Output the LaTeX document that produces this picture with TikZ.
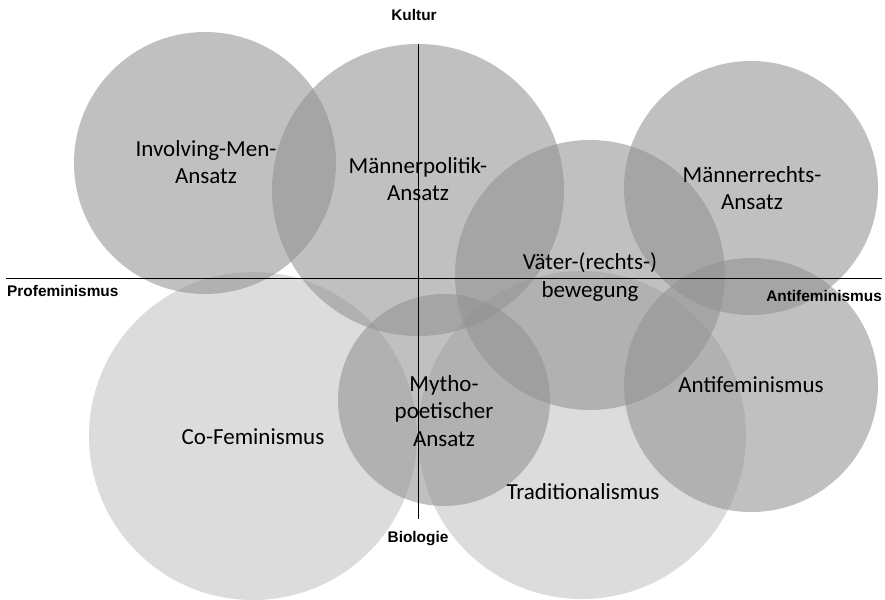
\documentclass[tikz,border=0pt]{standalone}
\usepackage{fontspec}
\setmainfont{Carlito}
\newfontfamily\axisfont{Liberation Sans}
\definecolor{cg}{gray}{0.57}
\begin{document}
\begin{tikzpicture}[x=1pt,y=-1pt,
  dark/.style={fill=cg,fill opacity=0.57},
  light/.style={fill=cg,fill opacity=0.32},
  lbl/.style={font=\fontsize{23}{27.5}\selectfont,align=center,text=black,inner sep=0pt},
  axlbl/.style={font=\axisfont\bfseries\fontsize{15.4}{18}\selectfont,inner sep=0pt,text=black},
  axis/.style={draw=black,line width=0.8pt}]
\useasboundingbox (0,0) rectangle (885,599);
% circles
\fill[dark]  (205,163) circle [radius=131pt];
\fill[dark]  (418,190) circle [radius=146pt];
\fill[dark]  (751,188) circle [radius=127pt];
\fill[dark]  (590,275) circle [radius=135pt];
\fill[dark]  (751,385) circle [radius=127pt];
\fill[light] (253,436) circle [radius=164pt];
\fill[dark]  (444,400) circle [radius=106pt];
\fill[light] (582,435) circle [radius=164pt];
% axes
\coordinate (vtop) at (418,44);
\coordinate (vbot) at (418,519);
\coordinate (hleft) at (6,278);
\coordinate (hright) at (882,278);
\draw[axis] (vtop) -- (vbot);
\draw[axis] (hleft) -- (hright);
% axis labels
\node[axlbl,anchor=base] (kultur) at (414,21) {Kultur};
\node[axlbl,anchor=base] (biologie) at (418,542) {Biologie};
\node[axlbl,anchor=base west] (profem) at (7,296) {Profeminismus};
\node[axlbl,anchor=base east] (antifemax) at (882,301) {Antifeminismus};
% circle labels
\node[lbl] (involving) at (206,162) {Involving-Men-\\Ansatz};
\node[lbl] (mpolitik) at (418,179) {Männerpolitik-\\Ansatz};
\node[lbl] (mrechts) at (752,188) {Männerrechts-\\Ansatz};
\node[lbl] (vaeter) at (590,277) {Väter-(rechts-)\\bewegung};
\node[lbl] (cofem) at (253,437) {Co-Feminismus};
\node[lbl] (mytho) at (444,411) {Mytho-\\poetischer\\Ansatz};
\node[lbl] (trad) at (583,492) {Traditionalismus};
\node[lbl] (antifem) at (751,385) {Antifeminismus};
\end{tikzpicture}
\end{document}
